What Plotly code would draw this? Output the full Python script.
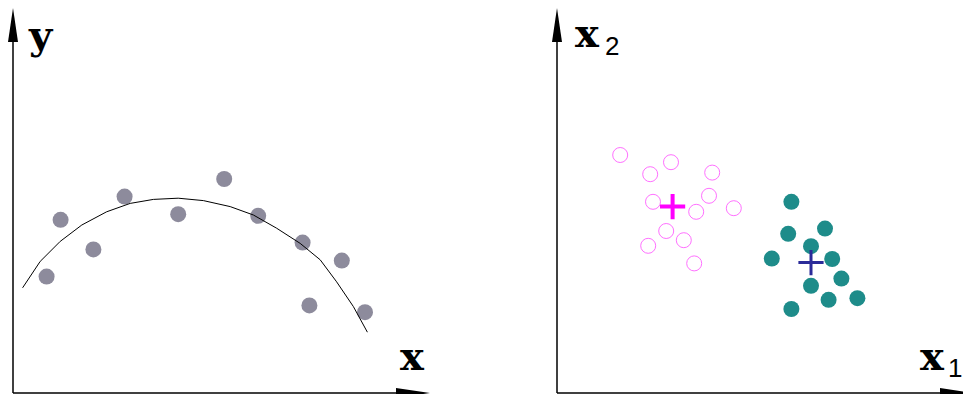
import plotly.graph_objects as go

W, H = 963, 394

# Left panel: noisy samples and the fitted curve
fit_x = [0.84, 1.19, 2.01, 2.79, 4.13, 5.28, 6.13, 7.24, 8.22, 7.41, 8.80]
fit_y = [2.91, 4.33, 3.59, 4.91, 4.47, 5.35, 4.43, 3.76, 3.31, 2.19, 2.02]
curve_x = [0.24, 0.68, 1.18, 1.72, 2.34, 2.93, 3.51, 4.13, 4.76, 5.43, 6.01,
           6.59, 7.18, 7.68, 8.09, 8.51, 8.86]
curve_y = [2.63, 3.29, 3.79, 4.20, 4.53, 4.74, 4.84, 4.87, 4.81, 4.66, 4.45,
           4.12, 3.74, 3.33, 2.78, 2.16, 1.52]

# Right panel: two clusters and their centres
open_x1 = [1.58, 2.85, 2.33, 3.88, 2.40, 3.80, 3.48, 4.42, 2.73, 3.17, 2.28, 3.43]
open_x2 = [5.95, 5.77, 5.47, 5.51, 4.78, 4.93, 4.53, 4.62, 4.05, 3.82, 3.68, 3.24]
open_centre = [2.89, 4.66]
filled_x1 = [5.86, 6.70, 5.78, 6.35, 5.37, 6.88, 7.11, 6.35, 6.79, 7.51, 5.86]
filled_x2 = [4.78, 4.11, 3.98, 3.67, 3.36, 3.35, 2.86, 2.68, 2.33, 2.37, 2.10]
filled_centre = [6.35, 3.26]

# Axis labels
left_labels = ["y", "x"]
right_labels = [("x", "2"), ("x", "1")]

GRAY = "#8d8b9c"
TEAL = "#1e8c8a"
PINK = "#ff70ff"
MAGENTA = "#ff00ff"
NAVY = "#2b2b99"


def px(x):
    return x / W


def py(y):
    return 1 - y / H


fig = go.Figure()

fig.add_trace(go.Scatter(x=fit_x, y=fit_y, mode="markers", xaxis="x", yaxis="y",
                         marker=dict(size=16, color=GRAY, line=dict(width=0))))
fig.add_trace(go.Scatter(x=curve_x, y=curve_y, mode="lines", xaxis="x", yaxis="y",
                         line=dict(color="black", width=1)))

fig.add_trace(go.Scatter(x=open_x1, y=open_x2, mode="markers", xaxis="x2", yaxis="y2",
                         marker=dict(size=15, color="rgba(0,0,0,0)",
                                     line=dict(color=PINK, width=1))))
fig.add_trace(go.Scatter(x=filled_x1, y=filled_x2, mode="markers", xaxis="x2", yaxis="y2",
                         marker=dict(size=16, color=TEAL, line=dict(width=0))))
fig.add_trace(go.Scatter(x=[open_centre[0]], y=[open_centre[1]], mode="markers",
                         xaxis="x2", yaxis="y2",
                         marker=dict(symbol="cross-thin", size=18,
                                     line=dict(color=MAGENTA, width=4))))
fig.add_trace(go.Scatter(x=[filled_centre[0]], y=[filled_centre[1]], mode="markers",
                         xaxis="x2", yaxis="y2",
                         marker=dict(symbol="cross-thin", size=18,
                                     line=dict(color=NAVY, width=3))))

hidden = dict(visible=False, showgrid=False, zeroline=False, fixedrange=True)
fig.update_layout(
    width=W, height=H, margin=dict(l=0, r=0, t=0, b=0),
    paper_bgcolor="white", plot_bgcolor="white", showlegend=False,
    xaxis=dict(domain=[px(13), px(430)], range=[0, 417 / 40], **hidden),
    yaxis=dict(domain=[py(393), py(8)], range=[0, 385 / 40], **hidden),
    xaxis2=dict(domain=[px(557), 1], range=[0, 406 / 40], anchor="y2", **hidden),
    yaxis2=dict(domain=[py(393), py(8)], range=[0, 385 / 40], anchor="x2", **hidden),
)

# Axis lines with long arrowheads
shapes = []
for ox, xend in [(13, 396), (557, 940)]:
    shapes.append(dict(type="line", xref="paper", yref="paper",
                       x0=px(ox), y0=py(393), x1=px(ox), y1=py(40),
                       line=dict(color="black", width=1.5)))
    shapes.append(dict(type="line", xref="paper", yref="paper",
                       x0=px(ox), y0=py(393), x1=px(xend), y1=py(393),
                       line=dict(color="black", width=1.5)))
    # vertical arrowhead
    shapes.append(dict(type="path", xref="paper", yref="paper",
                       path=f"M {px(ox)},{py(8)} L {px(ox - 5)},{py(42)} L {px(ox + 5)},{py(42)} Z",
                       fillcolor="black", line=dict(width=0)))
    # horizontal arrowhead
    shapes.append(dict(type="path", xref="paper", yref="paper",
                       path=f"M {px(xend + 34)},{py(393)} L {px(xend)},{py(388)} L {px(xend)},{py(398)} Z",
                       fillcolor="black", line=dict(width=0)))
fig.update_layout(shapes=shapes)

slab = dict(family="DejaVu Serif", size=40, color="black", weight="bold")
sans = dict(family="Liberation Sans", size=26, color="black")
ann = [
    dict(text=left_labels[0], x=px(41), y=py(35), font=slab),
    dict(text=left_labels[1], x=px(412), y=py(355), font=slab),
    dict(text=right_labels[0][0], x=px(587), y=py(33), font=slab),
    dict(text=right_labels[0][1], x=px(612), y=py(46), font=sans),
    dict(text=right_labels[1][0], x=px(932), y=py(355), font=slab),
    dict(text=right_labels[1][1], x=px(955), y=py(368), font=sans),
]
for a in ann:
    a.update(xref="paper", yref="paper", showarrow=False, xanchor="center", yanchor="middle")
fig.update_layout(annotations=ann)

fig.write_html("out.html")
